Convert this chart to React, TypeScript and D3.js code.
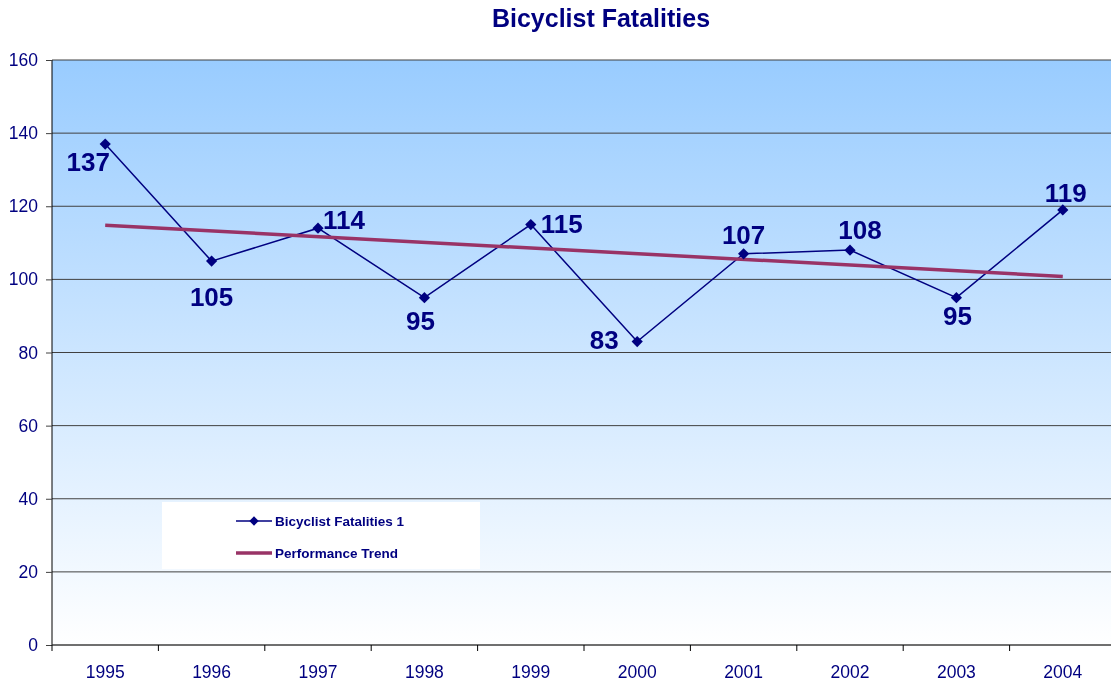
import { useEffect, useRef } from 'react'
import * as d3 from 'd3'

const YEARS = ['1995', '1996', '1997', '1998', '1999', '2000', '2001', '2002', '2003', '2004']
const FATALITIES = [137, 105, 114, 95, 115, 83, 107, 108, 95, 119]
const TREND_ENDS = [114.8, 100.8]
const Y_TICKS = [0, 20, 40, 60, 80, 100, 120, 140, 160]
// label centre offset from its point, px [dx, baseline dy]
const LABEL_OFFSETS: [number, number][] = [
  [-17, 27], [0, 45], [26, 1], [-4, 32], [31, 8],
  [-33, 7], [0, -10], [10, -11], [1, 27], [3, -8],
]

const NAVY = '#000080'
const TREND = '#993366'
const FONT = 'Arial, "Liberation Sans", Helvetica, sans-serif'

export default function App() {
  const svgRef = useRef<SVGSVGElement>(null)

  useEffect(() => {
    if (!svgRef.current) return
    const W = 1111, H = 685
    const m = { top: 60, right: 0, bottom: 40, left: 52 }
    const plotW = W - m.left - m.right
    const w = 1064 // category span runs a little past the right edge
    const h = H - m.top - m.bottom

    const svg = d3.select(svgRef.current)
    svg.selectAll('*').remove()
    svg.attr('width', W).attr('height', H)

    const defs = svg.append('defs')
    const grad = defs.append('linearGradient').attr('id', 'bg').attr('x1', 0).attr('x2', 0).attr('y1', 0).attr('y2', 1)
    grad.append('stop').attr('offset', '0%').attr('stop-color', '#99CCFF')
    grad.append('stop').attr('offset', '100%').attr('stop-color', '#FFFFFF')

    // title
    svg.append('text')
      .attr('x', 601).attr('y', 27)
      .attr('text-anchor', 'middle')
      .attr('font-family', FONT).attr('font-size', '25px').attr('font-weight', 'bold')
      .attr('fill', NAVY)
      .text('Bicyclist Fatalities')

    const g = svg.append('g').attr('transform', `translate(${m.left},${m.top})`)

    const x = d3.scaleBand().domain(YEARS).range([0, w])
    const y = d3.scaleLinear().domain([0, 160]).range([h, 0])
    const cx = (d: string) => (x(d) ?? 0) + x.bandwidth() / 2

    g.append('rect').attr('width', plotW).attr('height', h).attr('fill', 'url(#bg)')

    // legend box
    const lg = g.append('g').attr('transform', 'translate(110,442)')
    lg.append('rect').attr('width', 318).attr('height', 67).attr('fill', '#FFFFFF')

    // gridlines
    g.append('g').selectAll('line')
      .data(Y_TICKS).enter().append('line')
      .attr('x1', 0).attr('x2', plotW)
      .attr('y1', d => y(d)).attr('y2', d => y(d))
      .attr('stroke', '#404040').attr('stroke-width', 1)

    // y axis
    const ya = g.append('g')
      .call(d3.axisLeft(y).tickValues(Y_TICKS).tickSize(6).tickPadding(8))
    ya.select('.domain').attr('stroke', '#000').attr('d', `M0,0V${h}`)
    ya.selectAll('.tick line').attr('stroke', '#404040')
    ya.selectAll('text').attr('fill', NAVY).attr('font-size', '17.5px').attr('font-family', FONT)

    // x axis
    const xa = g.append('g').attr('transform', `translate(0,${h})`)
    xa.append('line').attr('x1', 0).attr('x2', plotW).attr('stroke', '#404040')
    xa.selectAll('.tk').data(YEARS).enter().append('line')
      .attr('x1', d => x(d) ?? 0).attr('x2', d => x(d) ?? 0)
      .attr('y1', 0).attr('y2', 6).attr('stroke', '#000')
    xa.selectAll('text').data(YEARS).enter().append('text')
      .attr('x', d => cx(d)).attr('y', 33)
      .attr('text-anchor', 'middle')
      .attr('fill', NAVY).attr('font-size', '17.5px').attr('font-family', FONT)
      .text(d => d)

    // series line
    const line = d3.line<number>().x((_, i) => cx(YEARS[i])).y(d => y(d))
    g.append('path').datum(FATALITIES)
      .attr('d', line).attr('fill', 'none').attr('stroke', NAVY).attr('stroke-width', 1.5)

    // trend line
    g.append('line')
      .attr('x1', cx(YEARS[0])).attr('y1', y(TREND_ENDS[0]))
      .attr('x2', cx(YEARS[YEARS.length - 1])).attr('y2', y(TREND_ENDS[1]))
      .attr('stroke', TREND).attr('stroke-width', 3.5)

    // markers
    const diamond = d3.symbol().type(d3.symbolDiamond2).size(80)
    g.append('g').selectAll('path')
      .data(FATALITIES).enter().append('path')
      .attr('d', diamond)
      .attr('transform', (d, i) => `translate(${cx(YEARS[i])},${y(d)})`)
      .attr('fill', NAVY)

    // data labels
    FATALITIES.forEach((v, i) => {
      const [dx, dy] = LABEL_OFFSETS[i]
      g.append('text')
        .attr('x', cx(YEARS[i]) + dx).attr('y', y(v) + dy)
        .attr('text-anchor', 'middle')
        .attr('fill', NAVY).attr('font-size', '26px').attr('font-weight', 'bold').attr('font-family', FONT)
        .text(v)
    })

    // legend content
    lg.append('line').attr('x1', 74).attr('x2', 110).attr('y1', 19).attr('y2', 19)
      .attr('stroke', NAVY).attr('stroke-width', 1.5)
    lg.append('path').attr('d', d3.symbol().type(d3.symbolDiamond2).size(55))
      .attr('transform', 'translate(92,19)').attr('fill', NAVY)
    lg.append('text').attr('x', 113).attr('y', 24)
      .attr('fill', NAVY).attr('font-size', '13.5px').attr('font-weight', 'bold').attr('font-family', FONT)
      .text('Bicyclist Fatalities 1')
    lg.append('line').attr('x1', 74).attr('x2', 110).attr('y1', 51).attr('y2', 51)
      .attr('stroke', TREND).attr('stroke-width', 3.5)
    lg.append('text').attr('x', 113).attr('y', 56)
      .attr('fill', NAVY).attr('font-size', '13.5px').attr('font-weight', 'bold').attr('font-family', FONT)
      .text('Performance Trend')
  }, [])

  return (
    <div style={{ position: 'fixed', left: 0, top: 0 }}>
      <svg ref={svgRef} style={{ display: 'block' }} />
    </div>
  )
}
